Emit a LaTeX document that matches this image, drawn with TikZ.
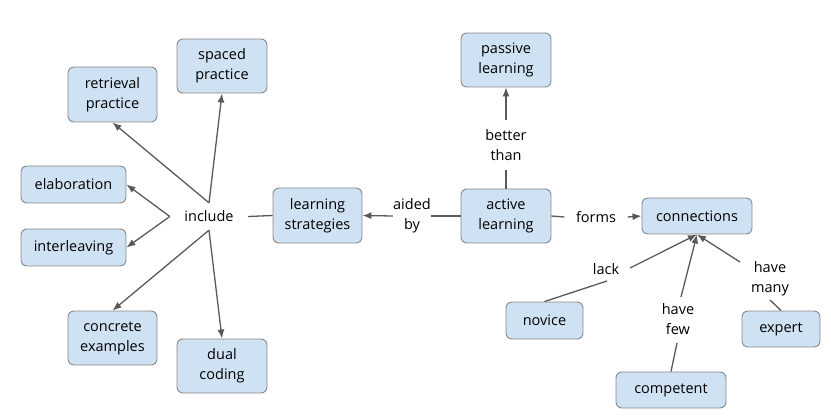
\documentclass[tikz,border=0pt]{standalone}
\usepackage{fontspec}
\setmainfont{Open Sans}
\usetikzlibrary{arrows.meta}
\definecolor{boxfill}{HTML}{CFE2F3}
\definecolor{boxline}{HTML}{888888}
\definecolor{edgecol}{HTML}{595959}
\tikzset{
  concept/.style={draw=boxline, line width=0.9pt, fill=boxfill, rounded corners=6pt, align=center, inner sep=0pt, font=\fontsize{14.5}{20}\selectfont},
  lbl/.style={align=center, inner sep=0pt, font=\fontsize{14.5}{20}\selectfont},
  link/.style={draw=edgecol, line width=1.3pt},
  arr/.style={link, -{Latex[length=9pt,width=7pt]}}
}
\begin{document}
\begin{tikzpicture}[x=1pt,y=-1pt]
\useasboundingbox (0,0) rectangle (831,417);
% concepts
\node[concept, minimum width=89, minimum height=55] (ret) at (112.5,94.5) {retrieval\\practice};
\node[concept, minimum width=90, minimum height=54] (spa) at (222,66) {spaced\\practice};
\node[concept, minimum width=105, minimum height=37] (ela) at (73.5,184.5) {elaboration};
\node[concept, minimum width=105, minimum height=37] (int) at (73.5,247.5) {interleaving};
\node[concept, minimum width=89, minimum height=54] (con) at (112.5,338) {concrete\\examples};
\node[concept, minimum width=90, minimum height=54] (dua) at (222,366) {dual\\coding};
\node[concept, minimum width=89, minimum height=55] (ls) at (317.5,215.5) {learning\\strategies};
\node[concept, minimum width=90, minimum height=54] (act) at (506,216) {active\\learning};
\node[concept, minimum width=90, minimum height=54] (pas) at (506,60) {passive\\learning};
\node[concept, minimum width=110, minimum height=36] (cnx) at (697,216) {connections};
\node[concept, minimum width=77, minimum height=37] (nov) at (544.5,320.5) {novice};
\node[concept, minimum width=110, minimum height=36] (com) at (671,390) {competent};
\node[concept, minimum width=78, minimum height=36] (exp) at (781,329) {expert};
% link labels
\node[lbl, minimum width=78, minimum height=27] (inc) at (209,216.5) {include};
\node[lbl, minimum width=30, minimum height=54] (aid) at (412,216) {aided\\by};
\node[lbl, minimum width=50, minimum height=50] (bet) at (506,145) {better\\than};
\node[lbl, minimum width=63, minimum height=20] (frm) at (596,217) {forms};
\node[lbl] (lck) at (606,269) {lack};
\node[lbl] (few) at (678,319) {have\\few};
\node[lbl] (man) at (770,279) {have\\many};
% connectors
\draw[link] (ls.west) -- (inc.east);
\draw[arr] (inc.north) -- (ret.south);
\draw[arr] (inc.north) -- (spa.south);
\draw[arr] (inc.west) -- (ela.east);
\draw[arr] (inc.west) -- (int.east);
\draw[arr] (inc.south) -- (con.north);
\draw[arr] (inc.south) -- (dua.north);
\draw[link] (act.west) -- (aid.east);
\draw[arr] (aid.west) -- (ls.east);
\draw[link] (act.north) -- (bet.south);
\draw[arr] (bet.north) -- (pas.south);
\draw[link] (act.east) -- (frm.west);
\draw[arr] (frm.east) -- (cnx.west);
\coordinate (lckin) at (607,281);
\coordinate (lckout) at (630,268);
\draw[link] (nov.north) -- (lckin);
\draw[arr] (lckout) -- (cnx.south);
\coordinate (fewin) at (677,343);
\coordinate (fewout) at (681,297);
\draw[link] (com.north) -- (fewin);
\draw[arr] (fewout) -- (cnx.south);
\coordinate (manin) at (770,300);
\coordinate (manout) at (740,262);
\draw[link] (exp.north) -- (manin);
\draw[arr] (manout) -- (cnx.south);
\end{tikzpicture}
\end{document}
